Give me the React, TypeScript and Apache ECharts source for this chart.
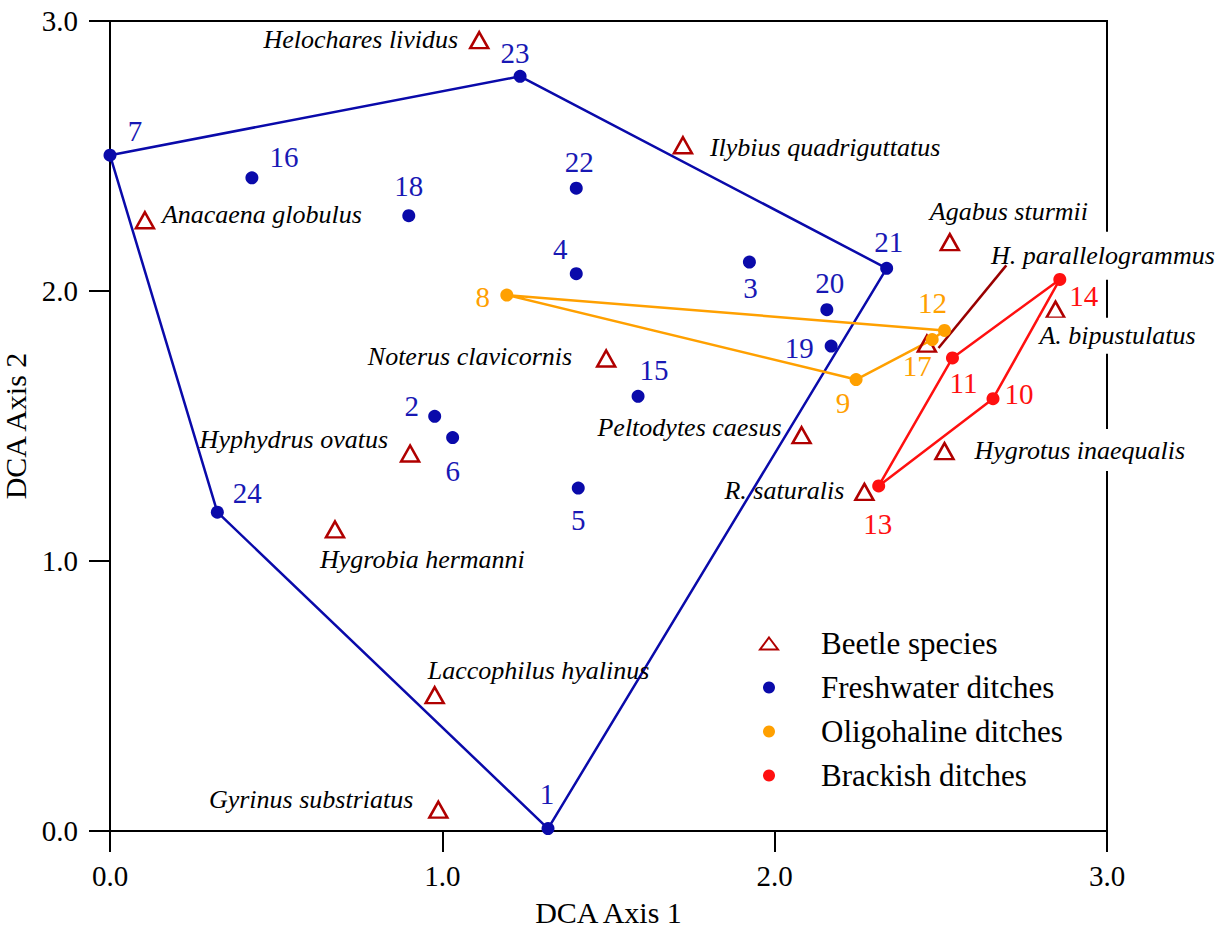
import React, { useEffect, useRef } from "react";
import * as echarts from "echarts";

// ---------------- data ----------------
const freshwaterSites = ["7", "16", "18", "23", "22", "4", "3", "20", "19", "21", "15", "2", "6", "5", "24", "1"];
const freshwaterAxis1 = [0.0, 0.427, 0.899, 1.234, 1.403, 1.403, 1.924, 2.157, 2.17, 2.337, 1.589, 0.977, 1.031, 1.409, 0.323, 1.318];
const freshwaterAxis2 = [2.503, 2.419, 2.279, 2.795, 2.381, 2.064, 2.107, 1.931, 1.796, 2.084, 1.61, 1.536, 1.457, 1.27, 1.181, 0.009];
const freshwaterHull = ["7", "23", "21", "1", "24", "7"];

const oligohalineSites = ["8", "12", "17", "9"];
const oligohalineAxis1 = [1.194, 2.511, 2.474, 2.245];
const oligohalineAxis2 = [1.985, 1.854, 1.82, 1.672];
const oligohalineHull = ["8", "12", "17", "9", "8"];

const brackishSites = ["14", "11", "10", "13"];
const brackishAxis1 = [2.858, 2.535, 2.657, 2.313];
const brackishAxis2 = [2.043, 1.752, 1.601, 1.278];
const brackishHull = ["14", "11", "13", "10", "14"];

const beetleSpecies = [
  "Helochares lividus",
  "Ilybius quadriguttatus",
  "Anacaena globulus",
  "Agabus sturmii",
  "H. parallelogrammus",
  "A. bipustulatus",
  "Hygrotus inaequalis",
  "R. saturalis",
  "Noterus clavicornis",
  "Peltodytes caesus",
  "Hyphydrus ovatus",
  "Hygrobia hermanni",
  "Laccophilus hyalinus",
  "Gyrinus substriatus",
];
const beetleAxis1 = [1.111, 1.724, 0.105, 2.527, 2.458, 2.845, 2.511, 2.27, 1.493, 2.081, 0.903, 0.677, 0.977, 0.988];
const beetleAxis2 = [2.929, 2.54, 2.262, 2.181, 1.805, 1.931, 1.407, 1.256, 1.75, 1.466, 1.398, 1.117, 0.503, 0.079];

// leader line for "H. parallelogrammus" (DCA units)
const leaderAxis1 = [2.493, 2.697];
const leaderAxis2 = [1.789, 2.095];

const axisTicks = [0, 1, 2, 3];

// ---------------- label placement (px offsets) ----------------
const siteLabelOffset: Record<string, [number, number]> = {
  "7": [25, -24], "16": [32, -21], "18": [0, -30], "23": [-5, -23], "22": [3, -26], "4": [-16, -25],
  "3": [1, 26], "20": [3, -27], "19": [-32, 2], "21": [2, -26], "15": [16, -26], "2": [-23, -10],
  "6": [0, 33], "5": [0, 32], "24": [30, -19], "1": [-1, -35],
  "8": [-24, 2], "12": [-12, -27], "17": [-15, 26], "9": [-13, 23],
  "14": [24, 17], "11": [11, 25], "10": [26, -5], "13": [-1, 38],
};

const speciesLabel: Record<string, { align: string; off: [number, number]; bg?: number[] }> = {
  "Helochares lividus": { align: "right", off: [-21, -1] },
  "Ilybius quadriguttatus": { align: "left", off: [27, 2] },
  "Anacaena globulus": { align: "left", off: [17, -6] },
  "Agabus sturmii": { align: "left", off: [-20, -31] },
  "H. parallelogrammus": { align: "left", off: [60, -88], bg: [16, 4, 6, 4] },
  "A. bipustulatus": { align: "left", off: [-16, 26], bg: [0, 4, 10, 0] },
  "Hygrotus inaequalis": { align: "left", off: [26, -1], bg: [8, 4, 8, 4] },
  "R. saturalis": { align: "right", off: [-20, -1] },
  "Noterus clavicornis": { align: "right", off: [-34, -2] },
  "Peltodytes caesus": { align: "right", off: [-20, -8] },
  "Hyphydrus ovatus": { align: "right", off: [-22, -14] },
  "Hygrobia hermanni": { align: "left", off: [-15, 30] },
  "Laccophilus hyalinus": { align: "left", off: [-7, -25] },
  "Gyrinus substriatus": { align: "right", off: [-25, -10] },
};

const FONT = "'Liberation Serif', 'Times New Roman', serif";
const BLUE = "#0a0aaa";
const BLUE_TXT = "#1818b4";
const ORANGE = "#ffa000";
const RED = "#ff1010";
const DARKRED = "#b00000";

function siteData(ids: string[], xs: number[], ys: number[], color: string) {
  return ids.map((id, i) => ({
    name: id,
    value: [xs[i], ys[i]],
    label: {
      show: true,
      position: "inside",
      formatter: id,
      offset: siteLabelOffset[id] || [0, -25],
      align: "center",
      verticalAlign: "middle",
      color,
      fontSize: 29,
      fontFamily: FONT,
      textBorderWidth: 0,
    },
  }));
}

function hull(order: string[], ids: string[], xs: number[], ys: number[]) {
  return order.map((id) => {
    const i = ids.indexOf(id);
    return [xs[i], ys[i]];
  });
}

export default function App() {
  const ref = useRef<HTMLDivElement>(null);

  useEffect(() => {
    if (!ref.current) return;
    const chart = echarts.init(ref.current, undefined, { renderer: "svg" });

    const beetleData = beetleSpecies.map((name, i) => {
      const s = speciesLabel[name];
      const label: any = {
        show: true,
        position: "inside",
        formatter: name,
        offset: s.off,
        align: s.align,
        verticalAlign: "middle",
        color: "#000",
        fontSize: 26,
        fontStyle: "italic",
        fontFamily: FONT,
        textBorderWidth: 0,
      };
      if (s.bg) {
        label.backgroundColor = "#fff";
        label.padding = s.bg;
      }
      return { name, value: [beetleAxis1[i], beetleAxis2[i]], label };
    });

    const axisCommon = {
      type: "value",
      min: axisTicks[0],
      max: axisTicks[axisTicks.length - 1],
      interval: 1,
      splitLine: { show: false },
      axisLine: { show: true, onZero: false, lineStyle: { color: "#000", width: 2 } },
      axisTick: { show: true, inside: false, length: 21, lineStyle: { color: "#000", width: 2 } },
      nameLocation: "middle",
      nameTextStyle: { fontSize: 30, color: "#000", fontFamily: FONT },
    };

    chart.setOption({
      animation: false,
      backgroundColor: "#fff",
      textStyle: { fontFamily: FONT },
      grid: {
        left: 110,
        right: 116,
        top: 21,
        bottom: 96,
        containLabel: false,
        outerBoundsMode: "none",
        show: true,
        borderColor: "#000",
        borderWidth: 2,
        backgroundColor: "transparent",
      },
      xAxis: {
        ...axisCommon,
        name: "DCA Axis 1",
        nameGap: 66,
        axisLabel: {
          formatter: (v: number) => v.toFixed(1),
          fontSize: 29,
          color: "#000",
          margin: 30,
          fontFamily: FONT,
        },
      },
      yAxis: {
        ...axisCommon,
        name: "DCA Axis 2",
        nameGap: 72,
        axisLabel: {
          formatter: (v: number) => v.toFixed(1),
          fontSize: 29,
          color: "#000",
          margin: 32,
          fontFamily: FONT,
        },
      },
      legend: {
        orient: "vertical",
        left: 754,
        top: 623,
        itemWidth: 18,
        itemHeight: 12,
        itemGap: 13,
        data: ["Beetle species", "Freshwater ditches", "Oligohaline ditches", "Brackish ditches"],
        textStyle: { fontSize: 31, color: "#000", fontFamily: FONT, padding: [0, 0, 0, 38] },
      },
      series: [
        {
          name: "freshwater hull",
          type: "line",
          data: hull(freshwaterHull, freshwaterSites, freshwaterAxis1, freshwaterAxis2),
          symbol: "none",
          silent: true,
          lineStyle: { color: BLUE, width: 2.5 },
          z: 1,
        },
        {
          name: "oligohaline hull",
          type: "line",
          data: hull(oligohalineHull, oligohalineSites, oligohalineAxis1, oligohalineAxis2),
          symbol: "none",
          silent: true,
          lineStyle: { color: ORANGE, width: 2.5 },
          z: 1,
        },
        {
          name: "brackish hull",
          type: "line",
          data: hull(brackishHull, brackishSites, brackishAxis1, brackishAxis2),
          symbol: "none",
          silent: true,
          lineStyle: { color: RED, width: 2.5 },
          z: 1,
        },
        {
          name: "leader",
          type: "line",
          data: leaderAxis1.map((x, i) => [x, leaderAxis2[i]]),
          symbol: "none",
          silent: true,
          lineStyle: { color: "#990000", width: 2.5 },
          z: 3,
        },
        {
          name: "Beetle species",
          type: "scatter",
          symbol: "triangle",
          symbolSize: [18, 16],
          itemStyle: { color: "rgba(255,255,255,0)", borderColor: DARKRED, borderWidth: 2.5, opacity: 1 },
          data: beetleData,
          z: 2,
        },
        {
          name: "Freshwater ditches",
          type: "scatter",
          symbol: "circle",
          symbolSize: 13,
          itemStyle: { color: BLUE, opacity: 1 },
          data: siteData(freshwaterSites, freshwaterAxis1, freshwaterAxis2, BLUE_TXT),
          z: 4,
        },
        {
          name: "Oligohaline ditches",
          type: "scatter",
          symbol: "circle",
          symbolSize: 13,
          itemStyle: { color: ORANGE, opacity: 1 },
          data: siteData(oligohalineSites, oligohalineAxis1, oligohalineAxis2, ORANGE),
          z: 4,
        },
        {
          name: "Brackish ditches",
          type: "scatter",
          symbol: "circle",
          symbolSize: 13,
          itemStyle: { color: RED, opacity: 1 },
          data: siteData(brackishSites, brackishAxis1, brackishAxis2, RED),
          z: 4,
        },
      ],
    });

    return () => chart.dispose();
  }, []);

  return (
    <div
      ref={ref}
      style={{ position: "fixed", left: 0, top: 0, width: 1223, height: 927, background: "#fff" }}
    />
  );
}
